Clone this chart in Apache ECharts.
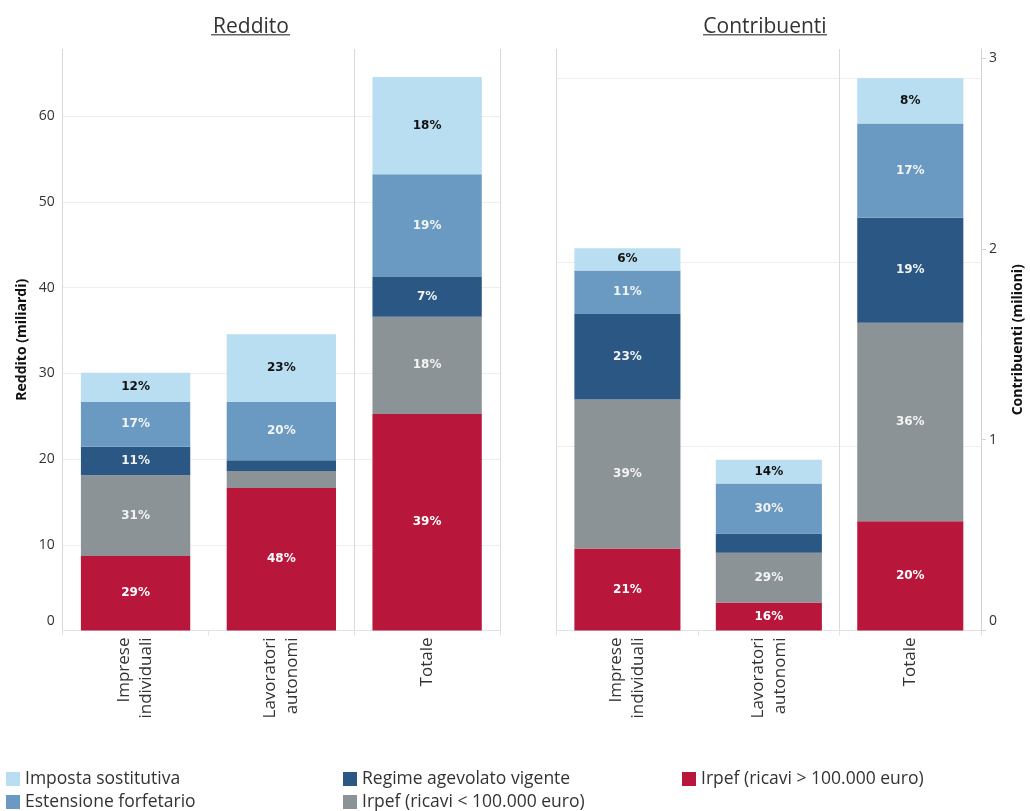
<!DOCTYPE html>
<html>
<head>
<meta charset="utf-8">
<script src="https://cdn.jsdelivr.net/npm/echarts@6/dist/echarts.min.js"></script>
<style>
  html, body { margin: 0; padding: 0; background: #fff; }
  #chart { width: 1030px; height: 811px; }
</style>
</head>
<body>
<div id="chart"></div>
<script>
// ---- Data ----
const categories = ['Imprese\nindividuali', 'Lavoratori\nautonomi', 'Totale'];
const seriesNames = [
  'Irpef (ricavi > 100.000 euro)',
  'Irpef (ricavi < 100.000 euro)',
  'Regime agevolato vigente',
  'Estensione forfetario',
  'Imposta sostitutiva'
];

// Reddito (miliardi)
const redditoIrpefOver  = [8.69, 16.63, 25.26];
const redditoIrpefUnder = [9.42, 1.98, 11.36];
const redditoRegime     = [3.34, 1.25, 4.63];
const redditoEstensione = [5.21, 6.80, 11.98];
const redditoImposta    = [3.42, 7.90, 11.36];

// Contribuenti (milioni)
const contribIrpefOver  = [0.430, 0.147, 0.573];
const contribIrpefUnder = [0.781, 0.260, 1.040];
const contribRegime     = [0.448, 0.101, 0.551];
const contribEstensione = [0.228, 0.263, 0.494];
const contribImposta    = [0.117, 0.124, 0.237];

// Percentage labels shown in the segments
const redditoLabels = [
  ['29%', '48%', '39%'],
  ['31%', '', '18%'],
  ['11%', '', '7%'],
  ['17%', '20%', '19%'],
  ['12%', '23%', '18%']
];
const contribLabels = [
  ['21%', '16%', '20%'],
  ['39%', '29%', '36%'],
  ['23%', '', '19%'],
  ['11%', '30%', '17%'],
  ['6%', '14%', '8%']
];

const leftTicks = [0, 10, 20, 30, 40, 50, 60];
const rightTicks = [0, 1, 2, 3];

// ---- Styles ----
const colors = ['#b8173b', '#8c9396', '#2a5783', '#6a9ac2', '#b9ddf1'];
const labelColors = ['#ffffff', '#f4f4f4', '#f4f4f4', '#f4f4f4', '#111111'];
const FONT = 'Open Sans';

const redditoData = [redditoIrpefOver, redditoIrpefUnder, redditoRegime, redditoEstensione, redditoImposta];
const contribData = [contribIrpefOver, contribIrpefUnder, contribRegime, contribEstensione, contribImposta];

function makeSeries(dataSets, labels, xIdx, yIdx, stack) {
  return dataSets.map((d, i) => ({
    name: seriesNames[i],
    type: 'bar',
    stack: stack,
    xAxisIndex: xIdx,
    yAxisIndex: yIdx,
    barWidth: '75%',
    data: d,
    itemStyle: { color: colors[i] },
    label: {
      show: true,
      position: 'inside',
      formatter: p => labels[i][p.dataIndex] || '',
      color: labelColors[i],
      fontFamily: 'DejaVu Sans',
      fontWeight: 'bold',
      fontSize: 12
    },
    emphasis: { disabled: true }
  }));
}

const catAxisBase = (gridIndex) => ({
  type: 'category',
  gridIndex: gridIndex,
  data: categories,
  axisLine: { show: true, lineStyle: { color: '#e3e3e3', width: 1 } },
  axisTick: { show: true, length: 5, lineStyle: { color: '#e3e3e3' } },
  axisLabel: {
    rotate: 90, fontSize: 17, lineHeight: 22, color: '#333', margin: 7, fontFamily: FONT
  },
  splitLine: {
    show: true,
    lineStyle: { color: ['#d9d9d9', 'rgba(0,0,0,0)', '#d9d9d9', '#d9d9d9'], width: 1 }
  }
});

function zeroShift(v) {
  return v === 0 ? '{z|0}' : String(v);
}

const option = {
  animation: false,
  backgroundColor: '#ffffff',
  grid: [
    { left: 62.7, right: 530, top: 49, bottom: 180.5 },
    { left: 556.7, right: 49, top: 49, bottom: 180.5 }
  ],
  xAxis: [catAxisBase(0), catAxisBase(1)],
  yAxis: [
    {
      type: 'value', gridIndex: 0, min: 0, max: 67.85, interval: 10,
      axisLine: { show: false }, axisTick: { show: false },
      axisLabel: {
        fontSize: 14, color: '#333', margin: 8, fontFamily: FONT,
        customValues: leftTicks,
        formatter: zeroShift,
        rich: { z: { fontSize: 14, color: '#333', fontFamily: FONT, padding: [0, 0, 18, 0] } }
      },
      splitLine: { show: true, lineStyle: { color: ['#eeeeee', '#eeeeee', '#eeeeee', '#eeeeee', '#eeeeee', '#eeeeee', '#eeeeee', 'rgba(0,0,0,0)'] } },
      name: 'Reddito (miliardi)', nameLocation: 'middle', nameGap: 34, nameRotate: 90,
      nameTextStyle: { fontSize: 14, fontWeight: 'bold', color: '#111', fontFamily: FONT }
    },
    {
      type: 'value', gridIndex: 1, position: 'right', min: 0, max: 3.048, interval: 1,
      axisLine: { show: true, lineStyle: { color: '#d3d3d3' } },
      axisTick: { show: true, length: 5, lineStyle: { color: '#d3d3d3' }, customValues: rightTicks },
      axisLabel: {
        fontSize: 14, color: '#333', margin: 8, fontFamily: FONT,
        customValues: rightTicks,
        formatter: zeroShift,
        rich: { z: { fontSize: 14, color: '#333', fontFamily: FONT, padding: [0, 0, 18, 0] } }
      },
      splitLine: { show: false },
      name: 'Contribuenti (milioni)', nameLocation: 'middle', nameGap: 30, nameRotate: 90,
      nameTextStyle: { fontSize: 14, fontWeight: 'bold', color: '#111', fontFamily: FONT }
    },
    {
      type: 'value', gridIndex: 1, min: 0, max: 3.157, interval: 1,
      axisLine: { show: false }, axisTick: { show: false }, axisLabel: { show: false },
      splitLine: { show: true, lineStyle: { color: ['#eeeeee', '#eeeeee', '#eeeeee', '#eeeeee', 'rgba(0,0,0,0)'] } }
    }
  ],
  legend: [
    { data: [seriesNames[4], seriesNames[3]], left: 6, top: 770 },
    { data: [seriesNames[2], seriesNames[1]], left: 343, top: 770 },
    { data: [seriesNames[0]], left: 682, top: 770 }
  ].map(l => Object.assign({
    orient: 'vertical', icon: 'rect', itemWidth: 14, itemHeight: 14, itemGap: 5, padding: 0,
    selectedMode: false,
    textStyle: { fontSize: 17.5, color: '#333', fontFamily: FONT }
  }, l)),
  graphic: [
    { type: 'text', x: 251, y: 27, style: { text: 'Reddito', align: 'center', verticalAlign: 'middle', font: '21px "Open Sans"', fill: '#333' } },
    { type: 'rect', shape: { x: 211, y: 34, width: 79, height: 1.5 }, style: { fill: '#666' } },
    { type: 'text', x: 765, y: 27, style: { text: 'Contribuenti', align: 'center', verticalAlign: 'middle', font: '21px "Open Sans"', fill: '#333' } },
    { type: 'rect', shape: { x: 703, y: 34, width: 124, height: 1.5 }, style: { fill: '#666' } }
  ],
  series: [].concat(
    makeSeries(redditoData, redditoLabels, 0, 0, 'reddito'),
    makeSeries(contribData, contribLabels, 1, 1, 'contrib')
  )
};

const chart = echarts.init(document.getElementById('chart'), null, { renderer: 'canvas' });
chart.setOption(option);
</script>
</body>
</html>
